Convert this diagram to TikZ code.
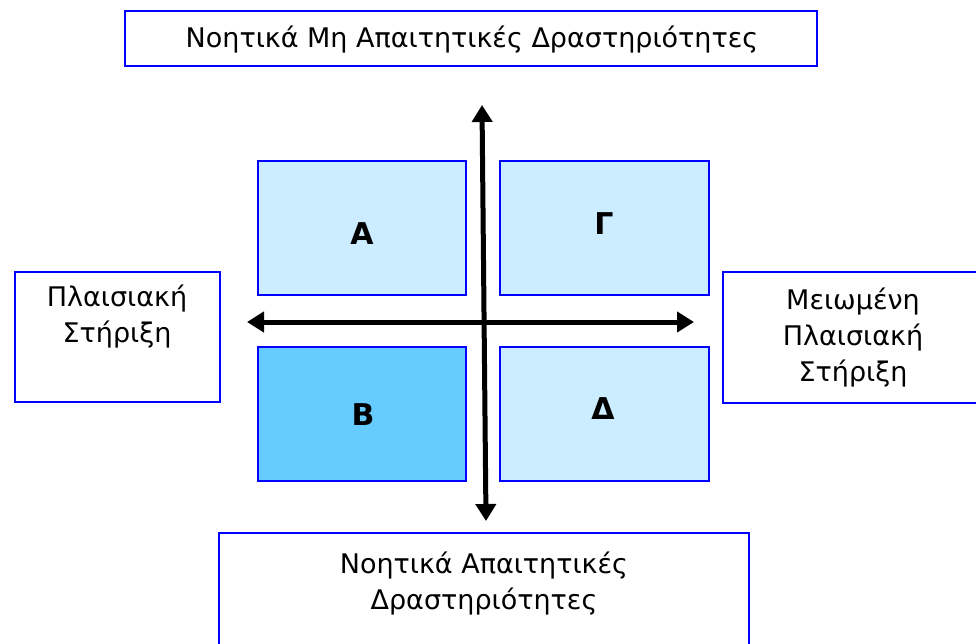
\documentclass[tikz,border=0pt]{standalone}
\usepackage{fontspec}
\setmainfont{DejaVu Sans}
\usetikzlibrary{arrows.meta}
\definecolor{edgeblue}{HTML}{0000FF}
\definecolor{lightq}{HTML}{CCECFF}
\definecolor{darkq}{HTML}{66CCFF}
\tikzset{
  outerbox/.style={draw=edgeblue, line width=1.5pt, fill=white},
  quadbox/.style={draw=edgeblue, line width=1.3pt, fill=lightq},
  lbl/.style={font=\fontsize{27}{36}\selectfont, align=center, inner sep=0pt},
  quadlbl/.style={font=\fontsize{30}{36}\bfseries\selectfont, inner sep=0pt},
  axis/.style={line width=5pt, {Triangle[length=17pt,width=20pt]}-{Triangle[length=17pt,width=20pt]}}
}
\begin{document}
\begin{tikzpicture}[x=1pt,y=-1pt]
\useasboundingbox (0,0) rectangle (976,644);
\fill[white] (0,0) rectangle (976,644);
% outer boxes
\draw[outerbox] (125,11) rectangle (817,66);
\node[lbl] (top) at (472,40) {Νοητικά Μη Απαιτητικές Δραστηριότητες};
\draw[outerbox] (15,272) rectangle (220,402);
\node[lbl, anchor=north] (left) at (117,285) {Πλαισιακή\\Στήριξη};
\draw[outerbox] (723,272) rectangle (985,403);
\node[lbl, anchor=north] (right) at (853,288) {Μειωμένη\\Πλαισιακή\\Στήριξη};
\draw[outerbox] (219,533) rectangle (749,655);
\node[lbl, anchor=north] (bottom) at (484,552) {Νοητικά Απαιτητικές\\Δραστηριότητες};
% quadrants
\draw[quadbox] (258,161) rectangle (466,295);
\draw[quadbox] (500,161) rectangle (709,295);
\draw[quadbox, fill=darkq] (258,347) rectangle (466,481);
\draw[quadbox] (500,347) rectangle (709,481);
\node[quadlbl] (A) at (362,234) {Α};
\node[quadlbl] (G) at (604,224) {Γ};
\node[quadlbl] (B) at (363,415) {Β};
\node[quadlbl] (D) at (603,409) {Δ};
% axes
\coordinate (vtop) at (482,105);
\coordinate (vbot) at (486,521);
\coordinate (hleft) at (247,322);
\coordinate (hright) at (694,322);
\draw[axis] (vbot) -- (vtop);
\draw[axis] (hleft) -- (hright);
\end{tikzpicture}
\end{document}
